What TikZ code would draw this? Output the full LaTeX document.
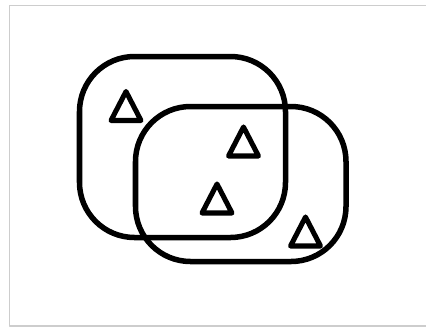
\documentclass[tikz,border=0pt]{standalone}
\usetikzlibrary{positioning}

\begin{document}
\begin{tikzpicture}[x=0.03cm,y=-0.03cm,line cap=round,line join=round]
  \useasboundingbox (0,0) rectangle (426,327);
  \tikzset{set/.style={line width=4.7pt,rounded corners=1.65cm},
    tri/.style={line width=4.3pt}}
  % frame
  \draw[line width=1.7pt,color={rgb,255:red,205;green,205;blue,205}] (440,5.5) -- (9.5,5.5) -- (9.5,325.5) -- (440,325.5);
  % the two sets
  \coordinate (A1) at (79.5,56.5);
  \coordinate (A2) at (285.5,237.5);
  \coordinate (B1) at (135.5,106.5);
  \coordinate (B2) at (346,261.5);
  \draw[set] (A1) rectangle (A2);
  \draw[set] (B1) rectangle (B2);
  % elements
  \coordinate (T1) at (126,106);
  \coordinate (T2) at (243.5,141.5);
  \coordinate (T3) at (217,198.5);
  \coordinate (T4) at (305.5,231.5);
  \foreach \t in {T1,T2,T3,T4}
    \draw[tri] (\t) ++(0,-14.5) -- ++(15,29) -- ++(-30,0) -- cycle;
\end{tikzpicture}
\end{document}
